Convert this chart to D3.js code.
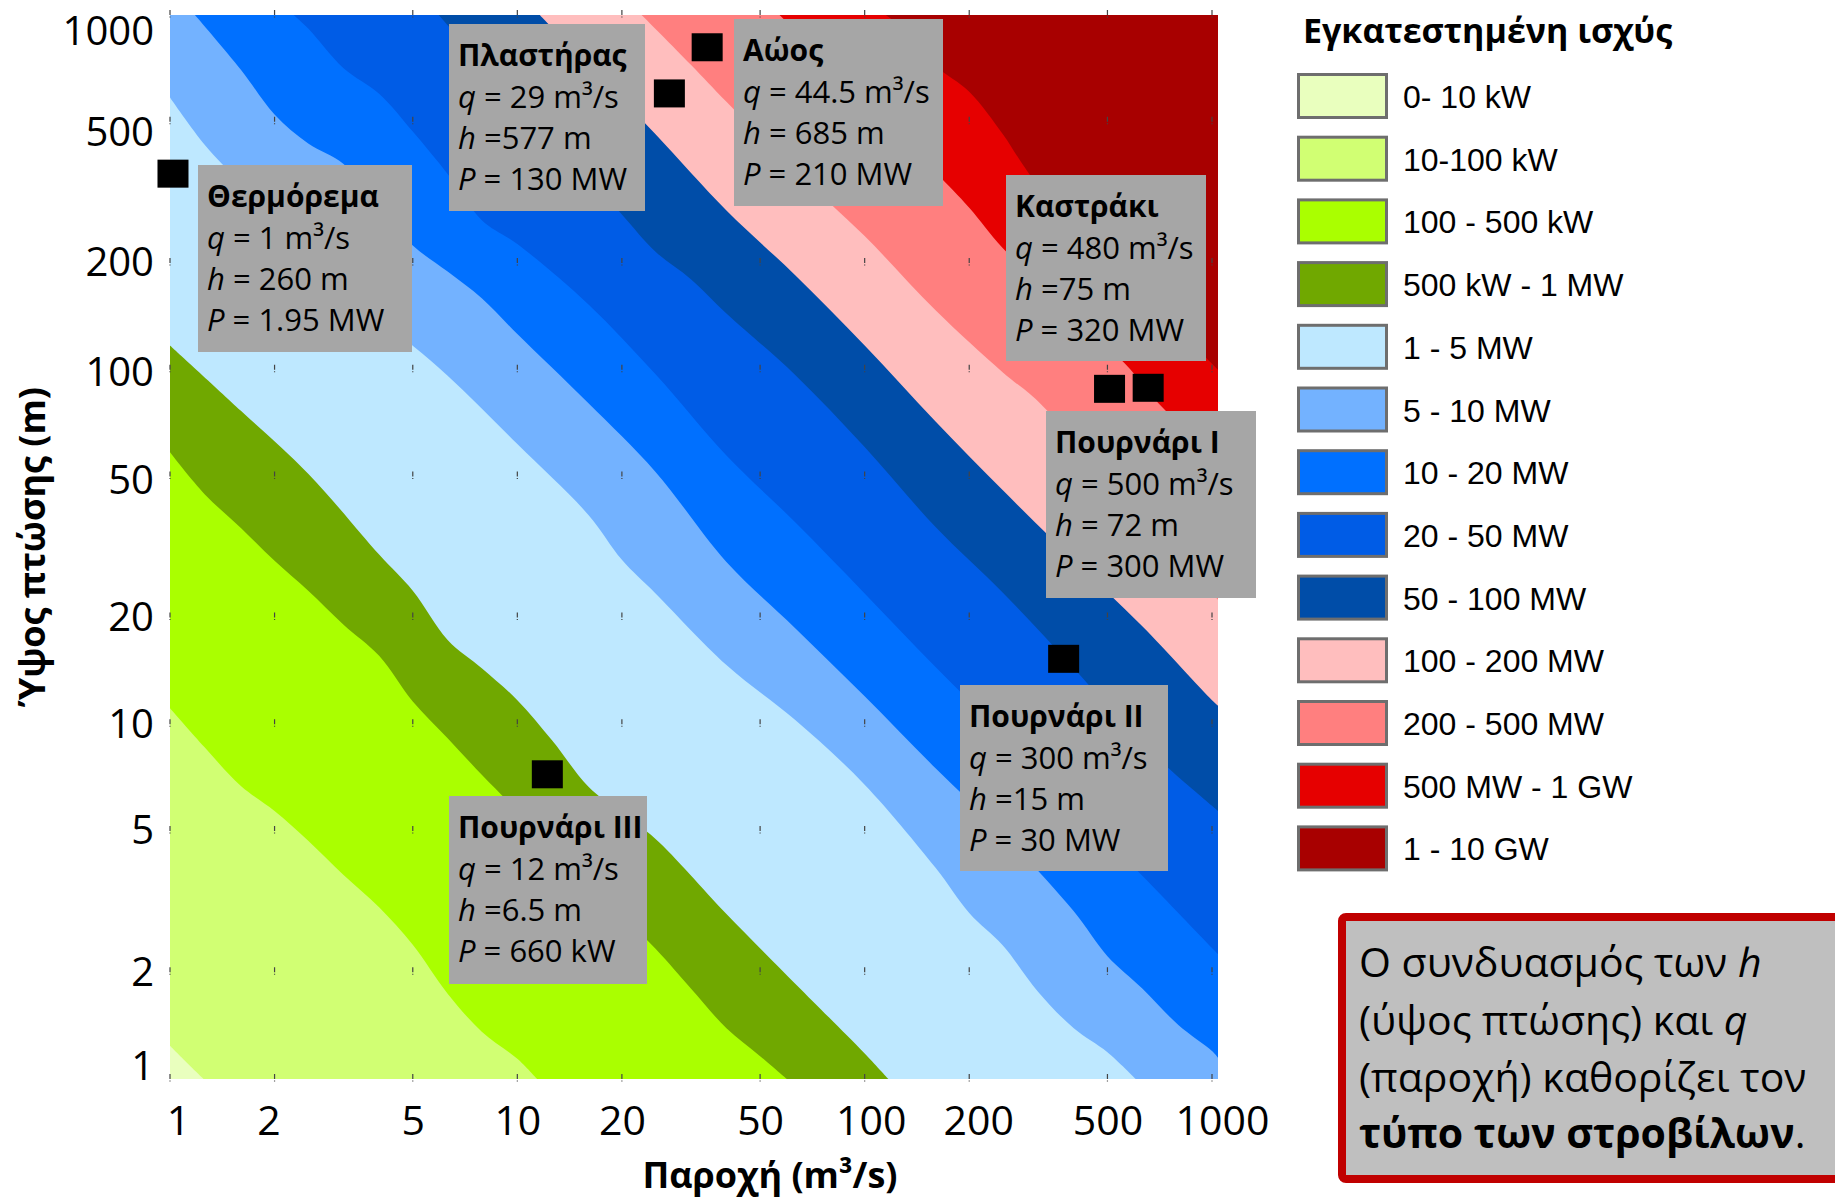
<!DOCTYPE html>
<html>
<head>
<meta charset="utf-8">
<script src="https://cdnjs.cloudflare.com/ajax/libs/d3/7.8.5/d3.min.js"></script>
<style>
  body { margin: 0; background: #fff; }
  svg { display: block; }
</style>
</head>
<body>
<script>
(function turbineChart(){
  // tick values on both log axes
  var tickValues = [1, 2, 5, 10, 20, 50, 100, 200, 500, 1000];

  // installed power classes, lowest first
  var classLabels = ["0- 10 kW", "10-100 kW", "100 - 500 kW", "500 kW - 1 MW", "1 - 5 MW", "5 - 10 MW",
    "10 - 20 MW", "20 - 50 MW", "50 - 100 MW", "100 - 200 MW", "200 - 500 MW", "500 MW - 1 GW", "1 - 10 GW"];
  var classColors = ["#e9ffbe", "#d1ff73", "#aaff00", "#70a800", "#bee8ff", "#73b2ff",
    "#0070ff", "#005ce6", "#004da8", "#ffbebe", "#ff7f7f", "#e60000", "#a80000"];

  // contour edges between classes as [q (m3/s), h (m)]
  var edge10kW = [[1, 1.24], [1.12, 1.11], [1.25, 1]];
  var edge100kW = [[1, 11.1], [1.26, 8.6], [1.6, 6.7], [2, 5.7], [2.5, 4.7], [3.16, 3.76], [4, 3.05], [5, 2.39],
    [6.3, 1.74], [7.9, 1.36], [10, 1.14], [11.4, 1]];
  var edge500kW = [[1, 58.5], [1.26, 44.5], [1.6, 35.8], [2, 28.9], [2.5, 23.8], [3.16, 19.1], [4, 15.6], [5, 11.6],
    [6.3, 9.14], [7.9, 7.21], [10, 5.71], [16, 3.6], [25, 2.33], [31.6, 1.8], [40, 1.39], [50, 1.16], [59.7, 1]];
  var edge1MW = [[1, 117], [1.6, 76.6], [2.5, 50.9], [4, 30.1], [5, 23.8], [6.3, 17.3], [7.9, 14.4], [10, 11.7],
    [12.6, 9.0], [16, 6.68], [20, 5.61], [25, 4.75], [40, 2.92], [63, 1.86], [79, 1.49], [100, 1.18], [117, 1]];
  var edge5MW = [[1, 585], [1.26, 430], [1.6, 336], [2.5, 220], [4, 141], [6.3, 96.2], [10, 61.7], [16, 39],
    [20, 29.1], [25, 23.4], [40, 14.7], [63, 10.3], [100, 6.76], [160, 3.94], [200, 2.94], [250, 2.38],
    [316, 1.76], [400, 1.39], [500, 1.19], [603, 1]];
  var edge10MW = [[1.18, 1000], [1.6, 701], [2, 524], [2.5, 434], [3.16, 380], [4, 287], [5, 224], [6.3, 189],
    [7.9, 159], [10, 126], [16, 80.5], [25, 51.5], [40, 28.7], [63, 18.7], [100, 12], [160, 7.52], [250, 4.92],
    [400, 2.97], [500, 2.22], [630, 1.8], [800, 1.42], [1000, 1.2], [1040, 1.15]];
  var edge20MW = [[2.27, 1000], [2.5, 916], [3.16, 708], [4, 600], [5, 469], [6.3, 356], [7.9, 264], [10, 226],
    [16, 153], [25, 97], [40, 57.3], [63, 37.2], [100, 23.4], [160, 14.5], [250, 9.38], [400, 5.86], [630, 3.74],
    [1000, 2.34], [1040, 2.25]];
  var edge50MW = [[5.94, 1000], [7.9, 728], [10, 569], [16, 348], [20, 274], [25, 215], [31.6, 180], [40, 144],
    [63, 96.8], [100, 60.5], [160, 36], [250, 23.5], [400, 14.4], [630, 8.81], [1000, 5.89], [1040, 5.7]];
  var edge100MW = [[11.6, 1000], [16, 724], [25, 461], [40, 281], [63, 185], [100, 117], [160, 71.4], [250, 45.7],
    [400, 29], [630, 18.9], [1000, 11.7], [1040, 11.3]];
  var edge200MW = [[22.8, 1000], [31.6, 724], [40, 569], [63, 364], [100, 238], [160, 147], [250, 98.2],
    [316, 81.3], [500, 49.1], [1000, 23.4], [1040, 22.5]];
  var edge500MW = [[56.9, 1000], [79, 724], [100, 575], [160, 360], [200, 286], [250, 220], [400, 142],
    [562, 104], [724, 77.8], [1000, 57.5], [1040, 55.3]];
  var edge1GW = [[115, 1000], [126, 933], [160, 718], [200, 608], [250, 461], [282, 385], [316, 331],
    [500, 209], [1000, 104], [1040, 100]];
  var edges = [edge10kW, edge100kW, edge500kW, edge1MW, edge5MW, edge10MW, edge20MW, edge50MW,
    edge100MW, edge200MW, edge500MW, edge1GW];

  var plantNames = ["Θερμόρεμα", "Πλαστήρας", "Αώος", "Καστράκι", "Πουρνάρι Ι", "Πουρνάρι ΙΙ", "Πουρνάρι ΙΙΙ"];
  var plantMarkQ = [1.02, 27.4, 35.2, 507, 655, 374, 12.2];
  var plantMarkH = [357, 601, 811, 88.3, 88.9, 15.3, 7.23];
  var plantQText = [" = 1 m³/s", " = 29 m³/s", " = 44.5 m³/s", " = 480 m³/s", " = 500 m³/s", " = 300 m³/s", " = 12 m³/s"];
  var plantHText = [" = 260 m", " =577 m", " = 685 m", " =75 m", " = 72 m", " =15 m", " =6.5 m"];
  var plantPText = [" = 1.95 MW", " = 130 MW", " = 210 MW", " = 320 MW", " = 300 MW", " = 30 MW", " = 660 kW"];

  // where the grey label boxes sit (pixels)
  var boxLayout = [[198, 165, 214, 187], [449, 24, 196, 187], [734, 19, 209, 187], [1006, 175, 200, 186],
    [1046, 411, 210, 187], [960, 685, 208, 186], [449, 796, 198, 188]];

  var font = '"Open Sans", sans-serif';
  var qMax = 1040;

  var svg = d3.select("body").append("svg")
    .attr("width", 1835)
    .attr("height", 1198);

  var x = d3.scaleLog().domain([1, 1000]).range([170, 1212]);
  var y = d3.scaleLog().domain([1, 1000]).range([1079, 15]);

  svg.append("defs").append("clipPath").attr("id", "plotClip")
    .append("rect")
    .attr("x", x(1)).attr("y", y(1000))
    .attr("width", x(qMax) - x(1)).attr("height", y(1) - y(1000));

  var plot = svg.append("g").attr("clip-path", "url(#plotClip)");
  plot.append("rect")
    .attr("x", x(1)).attr("y", y(1000))
    .attr("width", x(qMax) - x(1)).attr("height", y(1) - y(1000))
    .attr("fill", classColors[0]);

  var edgeLine = d3.line()
    .x(function(d){ return x(d[0]); })
    .y(function(d){ return y(d[1]); })
    .curve(d3.curveCatmullRom.alpha(0.5));

  // fill everything above/right of each edge with the next class colour
  var far = 1e4;
  var bandPath = function(pts) {
    var first = pts[0], last = pts[pts.length - 1];
    return edgeLine(pts) +
      "L" + x(far) + "," + y(last[1]) +
      "L" + x(far) + "," + y(far) +
      "L" + x(first[0]) + "," + y(far) + "Z";
  };
  plot.selectAll("path.band").data(edges).enter().append("path")
    .attr("class", "band")
    .attr("d", bandPath)
    .attr("fill", function(d, i){ return classColors[i + 1]; });

  // little grid marks at each tick crossing
  svg.append("g").selectAll("line").data(d3.cross(tickValues, tickValues)).enter().append("line")
    .attr("x1", function(d){ return x(d[0]); })
    .attr("x2", function(d){ return x(d[0]); })
    .attr("y1", function(d){ return y(d[1]) - 5; })
    .attr("y2", function(d){ return y(d[1]) + 2.5; })
    .attr("stroke", "#444")
    .attr("stroke-width", 1.2)
    .attr("stroke-dasharray", "5,1.5,1");

  // axes (the printed labels sit a little off their ticks at the ends)
  var xNudge = {1: 8, 2: -6, 100: 6, 200: 9, 1000: 10};
  var yNudge = {1000: 17, 500: 11, 100: 3, 50: 4, 1: -12};

  var xAxis = svg.append("g")
    .attr("transform", "translate(0," + y(1) + ")")
    .call(d3.axisBottom(x).tickValues(tickValues).tickFormat(d3.format("d")).tickSize(0).tickPadding(27));
  xAxis.select(".domain").remove();
  xAxis.attr("font-family", font).attr("font-size", 41).attr("color", "#000");
  xAxis.selectAll(".tick text").attr("dx", function(d){ return xNudge[d] || 0; });

  var yAxis = svg.append("g")
    .attr("transform", "translate(" + x(1) + ",0)")
    .call(d3.axisLeft(y).tickValues(tickValues).tickFormat(d3.format("d")).tickSize(0).tickPadding(16));
  yAxis.select(".domain").remove();
  yAxis.attr("font-family", font).attr("font-size", 40).attr("color", "#000");
  yAxis.selectAll(".tick text").attr("transform", function(d){
    return yNudge[d] ? "translate(0," + yNudge[d] + ")" : null;
  });

  svg.append("text")
    .attr("x", 770).attr("y", 1188)
    .attr("text-anchor", "middle")
    .attr("font-family", font).attr("font-size", 36).attr("font-weight", "bold")
    .text("Παροχή (m³/s)");

  svg.append("text")
    .attr("transform", "translate(45,547) rotate(-90)")
    .attr("text-anchor", "middle")
    .attr("font-family", font).attr("font-size", 36).attr("font-weight", "bold")
    .text("Ύψος πτώσης (m)");

  // plant markers
  svg.append("g").selectAll("rect").data(plantNames).enter().append("rect")
    .attr("x", function(d, i){ return x(plantMarkQ[i]) - 15.5; })
    .attr("y", function(d, i){ return y(plantMarkH[i]) - 14; })
    .attr("width", 31)
    .attr("height", 28)
    .attr("fill", "#000");

  // plant label boxes
  var boxes = svg.append("g").selectAll("g").data(plantNames).enter().append("g")
    .attr("transform", function(d, i){ return "translate(" + boxLayout[i][0] + "," + boxLayout[i][1] + ")"; });
  boxes.append("rect")
    .attr("width", function(d, i){ return boxLayout[i][2]; })
    .attr("height", function(d, i){ return boxLayout[i][3]; })
    .attr("fill", "#a6a6a6");
  boxes.append("text")
    .attr("x", 9).attr("y", 42)
    .attr("font-family", font).attr("font-size", 30).attr("font-weight", "bold")
    .text(function(d){ return d; });
  var addLine = function(sym, texts, yPos) {
    var t = boxes.append("text")
      .attr("x", 9).attr("y", yPos)
      .attr("font-family", font).attr("font-size", 31);
    t.append("tspan").attr("font-style", "italic").text(sym);
    t.append("tspan").text(function(d, i){ return texts[i]; });
  };
  addLine("q", plantQText, 84);
  addLine("h", plantHText, 125);
  addLine("P", plantPText, 166);

  // legend
  var legend = svg.append("g");
  legend.append("text")
    .attr("x", 1303).attr("y", 43)
    .attr("font-family", font).attr("font-size", 34).attr("font-weight", "bold")
    .text("Εγκατεστημένη ισχύς");
  var items = legend.selectAll("g.item").data(classLabels).enter().append("g")
    .attr("class", "item")
    .attr("transform", function(d, i){ return "translate(1297," + (96 + i * 62.7) + ")"; });
  items.append("rect")
    .attr("x", 1.5).attr("y", -21.5)
    .attr("width", 88).attr("height", 43)
    .attr("fill", function(d, i){ return classColors[i]; })
    .attr("stroke", "#6e6e6e")
    .attr("stroke-width", 3);
  items.append("text")
    .attr("x", 106).attr("y", 12)
    .attr("font-family", '"Liberation Sans", Arial, sans-serif')
    .attr("font-size", 32)
    .text(function(d){ return d; });

  // note box, bottom right
  var note = svg.append("g");
  note.append("rect")
    .attr("x", 1342).attr("y", 917)
    .attr("width", 600).attr("height", 262)
    .attr("rx", 4)
    .attr("fill", "#bfbfbf")
    .attr("stroke", "#c00000")
    .attr("stroke-width", 8);
  var noteText = function(yPos) {
    return note.append("text").attr("x", 1359).attr("y", yPos)
      .attr("font-family", font).attr("font-size", 41);
  };
  var n1 = noteText(977);
  n1.append("tspan").text("Ο συνδυασμός των ");
  n1.append("tspan").attr("font-style", "italic").text("h");
  var n2 = noteText(1035);
  n2.append("tspan").text("(ύψος πτώσης) και ");
  n2.append("tspan").attr("font-style", "italic").text("q");
  noteText(1092).text("(παροχή) καθορίζει τον");
  var n4 = noteText(1148);
  n4.append("tspan").attr("font-weight", "bold").text("τύπο των στροβίλων");
  n4.append("tspan").text(".");
})();
</script>
</body>
</html>
